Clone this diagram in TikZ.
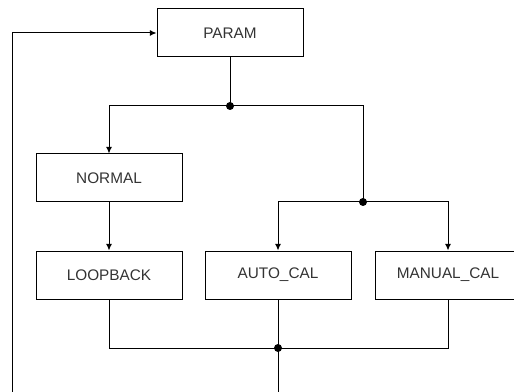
\documentclass[tikz,border=0pt]{standalone}
\usepackage{fontspec}
\setmainfont{Liberation Sans}
\usetikzlibrary{arrows.meta}
\tikzset{
  modebox/.style={draw, line width=0.75pt, minimum width=109.5pt, minimum height=36pt, inner sep=0pt, text=black!80, font=\fontsize{11.5}{13}\selectfont},
  wire/.style={line width=0.75pt},
  flow/.style={wire, -{Latex[length=5pt,width=4.5pt]}}
}

\begin{document}
\begin{tikzpicture}[x=0.75pt,y=-0.75pt]
\useasboundingbox (0,0) rectangle (514,392);
\clip (0,0) rectangle (514,392);
\node[modebox] (param) at (230,33) {PARAM};
\node[modebox] (normal) at (109,178) {NORMAL};
\node[modebox] (loopback) at (109,275) {LOOPBACK};
\node[modebox] (autocal) at (278,275) {AUTO\_CAL};
\node[modebox] (manualcal) at (448,275) {MANUAL\_CAL};
\coordinate (split) at (230,106);
\coordinate (subsplit) at (363,202);
\coordinate (join) at (278,348);
\coordinate (corner) at (12,410);
\draw[wire] (param) -- (split);
\draw[flow] (split) -| (normal);
\draw[wire] (split) -| (subsplit);
\draw[flow] (subsplit) -| (autocal);
\draw[flow] (subsplit) -| (manualcal);
\draw[flow] (normal) -- (loopback);
\draw[wire] (loopback) |- (join);
\draw[wire] (manualcal) |- (join);
\draw[wire] (autocal) -- (join);
\draw[flow] (join) |- (corner) |- (param.west);
\fill (split) circle (3pt);
\fill (subsplit) circle (3pt);
\fill (join) circle (3pt);
\end{tikzpicture}
\end{document}
